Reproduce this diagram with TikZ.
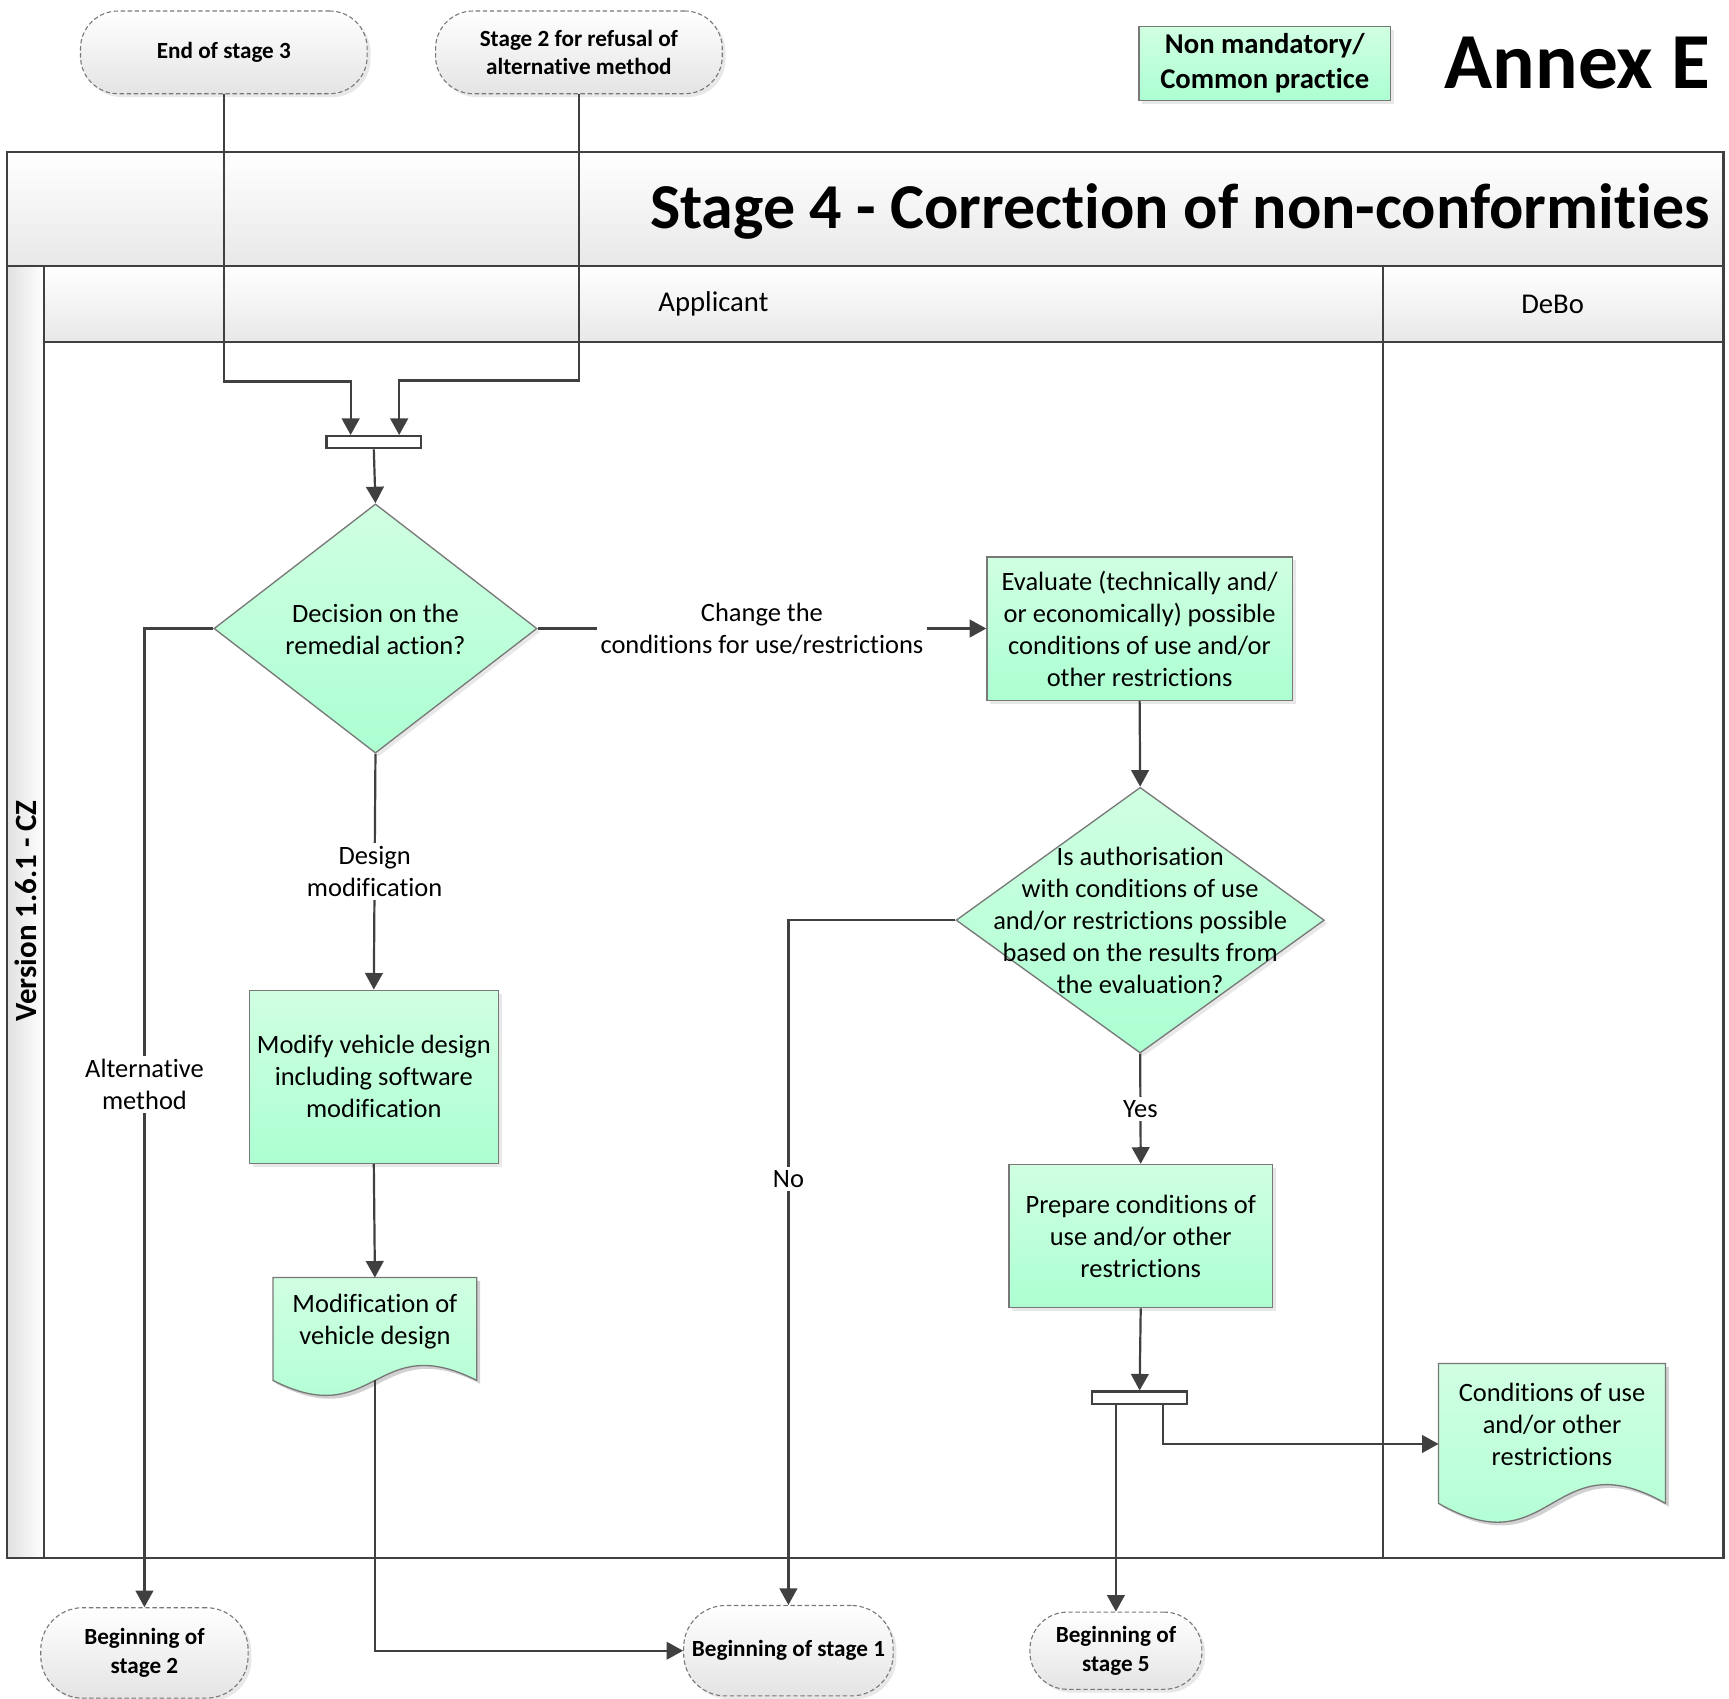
\documentclass[tikz,border=0pt]{standalone}
\usepackage{fontspec}
\setmainfont{Carlito}[Ligatures=NoCommon]
\usetikzlibrary{arrows.meta,shapes.geometric,shadows,calc}
\definecolor{grtop}{RGB}{208,255,225}
\definecolor{grbot}{RGB}{172,255,210}
\definecolor{ln}{RGB}{64,64,64}
\definecolor{bd}{RGB}{120,120,120}
\definecolor{termbot}{RGB}{228,228,228}
\begin{document}
\begin{tikzpicture}[x=0.5pt,y=-0.5pt,
  body/.style={font=\fontsize{12}{14.5}\selectfont},
  shad/.style={drop shadow={shadow xshift=1.5pt,shadow yshift=-1.5pt,fill=black!18}},
  proc/.style={rectangle, draw=bd, line width=0.6pt, top color=grtop, bottom color=grbot, shad, align=center, body, inner sep=0pt},
  dia/.style={diamond, draw=bd, line width=0.6pt, top color=grtop, bottom color=grbot, shad, inner sep=0pt},
  term/.style={rectangle, rounded corners=17pt, draw=bd, dash pattern=on 2pt off 1.2pt, line width=0.5pt, top color=white, bottom color=termbot, shad, align=center, font=\fontsize{10.5}{13}\selectfont\bfseries, inner sep=0pt},
  joinbar/.style={rectangle, draw=ln, line width=1pt, fill=white, minimum width=43pt, minimum height=5.5pt, inner sep=0pt},
  arr/.style={draw=ln, line width=1pt, -{Triangle[length=7.5pt,width=8pt]}},
  lbl/.style={body, fill=white, align=center, inner sep=1.5pt},
  pool/.style={draw=ln, line width=1pt},
  docarea/.style={rectangle, draw=none, inner sep=0pt},
  docfill/.style={top color=grtop, bottom color=grbot, draw=bd, line width=0.6pt},
  docshadow/.style={fill=black!18, transform canvas={xshift=1.5pt,yshift=-1.5pt}},
]
\useasboundingbox (0,0) rectangle (1568,1540);

% ---------- pool ----------
\path[top color=white,bottom color=black!9] (6,138) rectangle (1563,241);
\path[top color=white,bottom color=black!9] (40,241) rectangle (1563,310);
\path[left color=black!12,right color=white] (6,241) rectangle (40,1413);
\draw[pool] (6,138) rectangle (1563,1413);
\draw[pool] (6,241) -- (1563,241);
\draw[pool] (40,241) -- (40,1413);
\draw[pool] (40,310) -- (1563,310);
\draw[pool] (1254,241) -- (1254,1413);

\node[font=\fontsize{29}{34}\selectfont\bfseries, anchor=base east, inner sep=0pt] (title) at (1551,207) {Stage 4 - Correction of non-conformities};
\node[font=\fontsize{13}{16}\selectfont] (applicant) at (647,276) {Applicant};
\node[font=\fontsize{13}{16}\selectfont] (debo) at (1408,276) {DeBo};
\node[font=\fontsize{14}{17}\selectfont\bfseries, rotate=90] (version) at (23,826) {Version 1.6.1 - CZ};

% ---------- header ----------
\node[font=\fontsize{36}{40}\selectfont\bfseries, anchor=base east, inner sep=0pt] (annex) at (1551,80) {Annex E};
\node[proc, minimum width=114pt, minimum height=33.5pt, font=\fontsize{13}{16}\selectfont\bfseries] (legend) at (1147,57.5) {Non mandatory/\\Common practice};

% ---------- terminators ----------
\node[term, minimum width=130pt, minimum height=37.5pt] (t3) at (203,47.5) {End of stage 3};
\node[term, minimum width=130pt, minimum height=37.5pt] (t2) at (525,47.5) {Stage 2 for refusal of\\alternative method};
\node[term, rounded corners=19pt, minimum width=94pt, minimum height=41pt] (b2) at (131,1499) {Beginning of\\stage 2};
\node[term, rounded corners=19pt, minimum width=95pt, minimum height=41pt] (b1) at (715,1497) {Beginning of stage 1};
\node[term, rounded corners=17pt, minimum width=78pt, minimum height=35pt] (b5) at (1012,1497) {Beginning of\\stage 5};

% ---------- flow nodes ----------
\node[joinbar] (bar1) at (339,401) {};
\node[dia, minimum width=146.5pt, minimum height=113pt] (d1) at (340.5,570) {};
\node[body, align=center] (d1t) at (340.5,570.5) {Decision on the\\remedial action?};

\node[proc, minimum width=113pt, minimum height=78.5pt] (mod) at (339,976.5) {Modify vehicle design\\including software\\modification};

\node[docarea, minimum width=92pt, minimum height=46.25pt] (doc1) at (340,1205.25) {};
\path[docshadow] (doc1.north west) -- (doc1.north east) -- (doc1.south east) .. controls ($(doc1.south)+(0,-47)$) and ($(doc1.south)+(0,47)$) .. (doc1.south west) -- cycle;
\path[docfill] (doc1.north west) -- (doc1.north east) -- (doc1.south east) .. controls ($(doc1.south)+(0,-47)$) and ($(doc1.south)+(0,47)$) .. (doc1.south west) -- cycle;
\node[body, align=center] (doc1t) at (340,1198.5) {Modification of\\vehicle design};

\node[proc, minimum width=138.5pt, minimum height=65pt] (ev) at (1033.5,570) {Evaluate (technically and/\\or economically) possible\\conditions of use and/or\\other restrictions};

\node[dia, minimum width=167pt, minimum height=120.5pt] (d2) at (1034,834.5) {};
\node[body, align=center] (d2t) at (1034,835) {Is authorisation\\with conditions of use\\and/or restrictions possible\\based on the results from\\the evaluation?};

\node[proc, minimum width=119.5pt, minimum height=65pt] (prep) at (1034.5,1121) {Prepare conditions of\\use and/or other\\restrictions};

\node[joinbar] (bar2) at (1033.5,1267.5) {};

\node[docarea, minimum width=102.5pt, minimum height=63pt] (doc2) at (1407.5,1300) {};
\path[docshadow] (doc2.north west) -- (doc2.north east) -- (doc2.south east) .. controls ($(doc2.south)+(0,-59)$) and ($(doc2.south)+(0,59)$) .. (doc2.south west) -- cycle;
\path[docfill] (doc2.north west) -- (doc2.north east) -- (doc2.south east) .. controls ($(doc2.south)+(0,-59)$) and ($(doc2.south)+(0,59)$) .. (doc2.south west) -- cycle;
\node[body, align=center] (doc2t) at (1407.5,1291.5) {Conditions of use\\and/or other\\restrictions};

% ---------- connectors ----------
\coordinate (j1) at (318,346);
\coordinate (j2) at (362,345);
\coordinate (j3) at (1054.5,1309.5);
\draw[arr] (t3.south) |- (j1) -- (j1 |- bar1.north);
\draw[arr] (t2.south) |- (j2) -- (j2 |- bar1.north);
\draw[arr] (bar1.south) -- (d1.north);
\draw[arr] (d1.west) -| (b2.north) node[lbl, pos=0.733] (lalt) {Alternative\\method};
\draw[arr] (d1.east) -- (ev.west) node[lbl, midway] (lchg) {Change the\\conditions for use/restrictions};
\draw[arr] (d1.south) -- (mod.north) node[lbl, midway] (ldes) {Design\\modification};
\draw[arr] (mod.south) -- (doc1.north);
\draw[arr] (doc1.south) |- (b1.west);
\draw[arr] (ev.south) -- (d2.north);
\draw[arr] (d2.west) -| (b1.north) node[lbl, pos=0.689] (lno) {No};
\draw[arr] (d2.south) -- (prep.north) node[lbl, midway] (lyes) {Yes};
\draw[arr] (prep.south) -- (bar2.north);
\draw[arr] (b5.north |- bar2.south) -- (b5.north);
\draw[arr] (j3 |- bar2.south) |- (doc2.west |- j3);
\end{tikzpicture}
\end{document}
